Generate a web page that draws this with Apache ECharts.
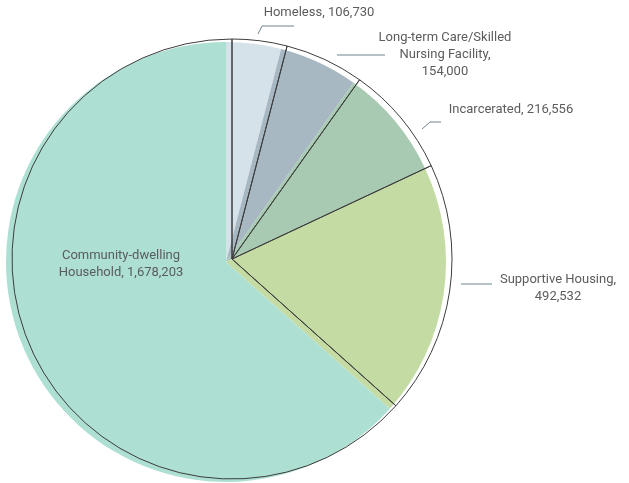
<!DOCTYPE html>
<html>
<head>
<meta charset="utf-8">
<script src="https://cdn.jsdelivr.net/npm/echarts@6/dist/echarts.min.js"></script>
<style>
html,body{margin:0;padding:0;background:#fff;}
#chart{width:629px;height:483px;}
</style>
</head>
<body>
<div id="chart"></div>
<script>
// Data
const categories = ['Homeless', 'Long-term Care/Skilled\nNursing Facility', 'Incarcerated', 'Supportive Housing', 'Community-dwelling\nHousehold'];
const values = [106730, 154000, 216556, 492532, 1678203];
const valueSeparators = [', ', ',\n', ', ', ',\n', ', '];
const fillColors = ['#d5e2ea', '#a8b8c3', '#a9cab2', '#c5dba4', '#aedfd3'];

// Layout (label positions and leader lines)
const labelPos = [
  {x: 319, y: 13, line: [[258, 34], [262, 26], [294, 26]]},
  {x: 445, y: 55, line: [[337, 55], [337, 55], [385, 55]]},
  {x: 511, y: 110, line: [[422, 129], [430, 122], [441, 122]]},
  {x: 558, y: 288, line: [[461, 284], [461, 284], [492, 284]]},
  {x: 121, y: 264, line: null}
];

const fmt = v => v.toLocaleString('en-US');

const chart = echarts.init(document.getElementById('chart'), null, {renderer: 'canvas'});

const fillData = categories.map((c, i) => ({name: c, value: values[i], itemStyle: {color: fillColors[i]}}));
const outlineData = categories.map((c, i) => ({
  name: c,
  value: values[i],
  labelLine: {show: labelPos[i].line !== null}
}));

chart.setOption({
  animation: false,
  series: [
    {
      type: 'pie',
      silent: true,
      center: [226, 262],
      radius: 220,
      startAngle: 90,
      clockwise: true,
      label: {show: false},
      labelLine: {show: false},
      itemStyle: {borderWidth: 0},
      data: fillData
    },
    {
      type: 'pie',
      silent: true,
      center: [232, 259],
      radius: 220,
      startAngle: 90,
      clockwise: true,
      avoidLabelOverlap: false,
      itemStyle: {color: 'rgba(0,0,0,0)', borderColor: '#3d3d3d', borderWidth: 1},
      label: {
        show: true,
        position: 'outside',
        fontFamily: 'Roboto',
        fontSize: 13,
        lineHeight: 17,
        color: '#5a5c5e',
        align: 'center',
        formatter: p => p.name + valueSeparators[p.dataIndex] + fmt(p.value)
      },
      labelLine: {show: true, lineStyle: {color: '#6f848f', width: 1}},
      labelLayout: function (params) {
        const lp = labelPos[params.dataIndex];
        const out = {x: lp.x, y: lp.y, align: 'center', verticalAlign: 'middle'};
        if (lp.line) out.labelLinePoints = lp.line;
        return out;
      },
      data: outlineData
    }
  ]
});
</script>
</body>
</html>
